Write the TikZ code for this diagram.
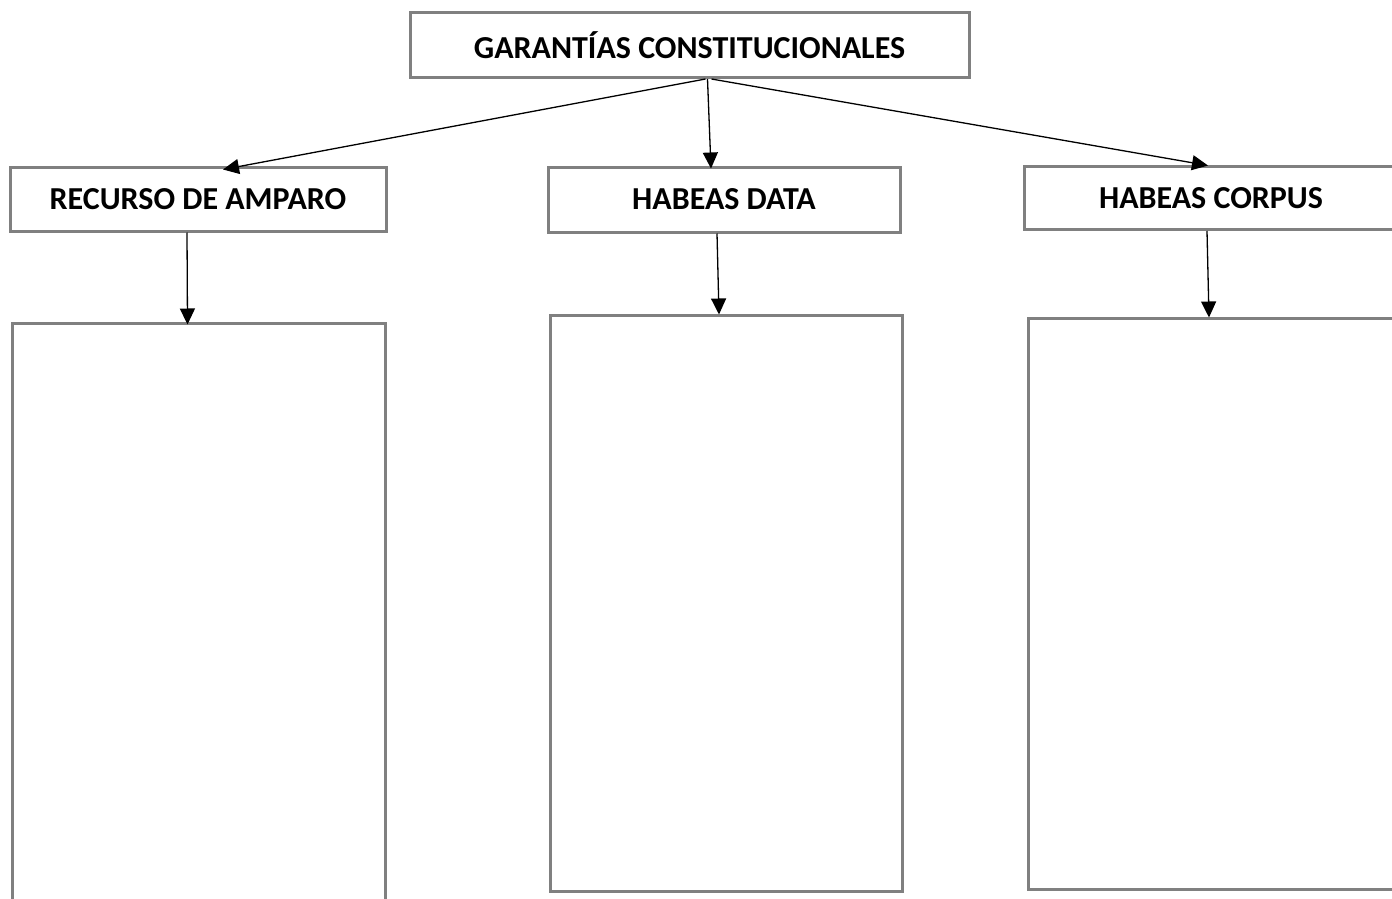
\documentclass[tikz,border=0pt]{standalone}
\usepackage{fontspec}
\setmainfont{Carlito}
\usepackage{tikz}
\usetikzlibrary{arrows.meta,positioning}
\definecolor{boxgray}{RGB}{128,128,128}

\begin{document}
\begin{tikzpicture}[x=1pt,y=-1pt,
  box/.style={draw=boxgray,line width=3pt,inner sep=0pt,font=\bfseries\fontsize{32}{38}\selectfont},
  link/.style={line width=1.3pt,-{Triangle[length=16pt,width=15pt]}}]
\useasboundingbox (0,0) rectangle (1392,899);
\node[box,minimum width=559pt,minimum height=64.5pt] (garantias) at (689.5,45.25) {GARANTÍAS CONSTITUCIONALES};
\node[box,minimum width=376pt,minimum height=64pt] (amparo) at (198,199) {RECURSO DE AMPARO};
\node[box,minimum width=352pt,minimum height=65pt] (data) at (724,199.5) {HABEAS DATA};
\node[box,minimum width=374pt,minimum height=63.5pt] (corpus) at (1211,197.75) {HABEAS CORPUS};
\node[box,minimum width=373pt,minimum height=587pt] (amparobox) at (198.5,616.5) {};
\node[box,minimum width=352pt,minimum height=576pt] (databox) at (726,603) {};
\node[box,minimum width=372pt,minimum height=571pt] (corpusbox) at (1214,603.5) {};
\draw[link] ([xshift=16pt]garantias.south) -- ([xshift=25pt,yshift=-4pt]amparo.north);
\draw[link] ([xshift=18pt]garantias.south) -- ([xshift=-13pt,yshift=-3pt]data.north);
\draw[link] ([xshift=22pt]garantias.south) -- ([xshift=-3pt,yshift=-1pt]corpus.north);
\draw[link] ([xshift=-11pt]amparo.south) -- ([xshift=-11pt,yshift=-3pt]amparobox.north);
\draw[link] ([xshift=-7pt]data.south) -- ([xshift=-7pt,yshift=-1pt]databox.north);
\draw[link] ([xshift=-4pt]corpus.south) -- ([xshift=-5pt,yshift=-1pt]corpusbox.north);
\end{tikzpicture}
\end{document}
